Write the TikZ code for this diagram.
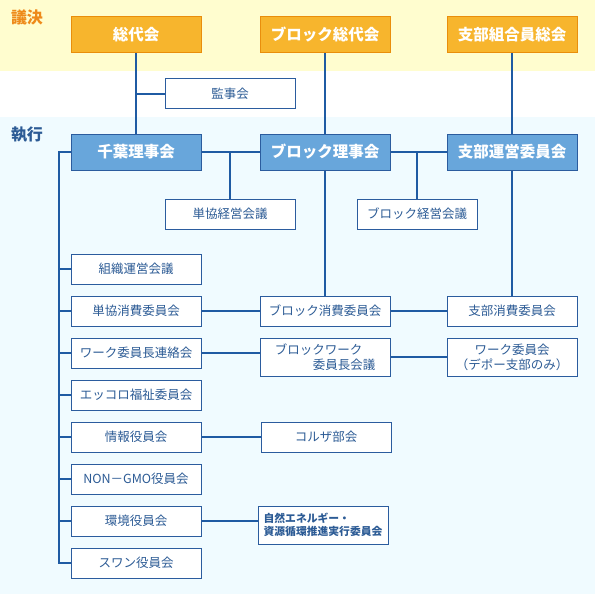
\documentclass[tikz,border=0pt]{standalone}
\usepackage{fontspec}
\setmainfont{Noto Sans CJK JP}
\usepackage{xcolor}
\usetikzlibrary{calc}

\definecolor{bandyellow}{HTML}{FFFDCF}
\definecolor{bandblue}{HTML}{F0FBFF}
\definecolor{orangefill}{HTML}{F7B52D}
\definecolor{orangeline}{HTML}{E98E0C}
\definecolor{bluefill}{HTML}{68A6DB}
\definecolor{blueline}{HTML}{2B5C9E}
\definecolor{linkblue}{HTML}{1F5BA3}
\definecolor{labelorange}{HTML}{EE8A1A}
\definecolor{labelblue}{HTML}{2C5B95}

\tikzset{
  bigbox/.style={minimum width=130, minimum height=36, inner sep=0pt, line width=1pt,
    text=white, font=\fontsize{15.5}{18}\selectfont\bfseries},
  gikai/.style={bigbox, fill=orangefill, draw=orangeline},
  rijikai/.style={bigbox, fill=bluefill, draw=blueline},
  wbox/.style={minimum width=130, minimum height=30, inner sep=0pt, line width=1pt,
    fill=white, draw=blueline, text=labelblue, font=\fontsize{12.5}{15}\selectfont},
  link/.style={linkblue, line width=2pt, line join=miter}
}

\begin{document}
\begin{tikzpicture}[x=1pt, y=-1pt]
  % Background bands
  \useasboundingbox (0,0) rectangle (595,594);
  \fill[bandyellow] (0,0) rectangle (595,71);
  \fill[white] (0,71) rectangle (595,117);
  \fill[bandblue] (0,117) rectangle (595,594);

  % Section labels
  \node[labelorange, font=\fontsize{16}{18}\selectfont\bfseries] (giketsu) at (27,17) {議決};
  \node[labelblue, font=\fontsize{16}{18}\selectfont\bfseries] (shikko) at (27,135) {執行};

  % Top row: decision bodies
  \node[gikai] (sodai) at (136,35) {総代会};
  \node[gikai] (bsodai) at (325,35) {ブロック総代会};
  \node[gikai] (shibusokai) at (512,35) {支部組合員総会};

  \node[wbox] (kanji) at (230,94) {監事会};

  % Executive row
  \node[rijikai] (riji) at (136,152) {千葉理事会};
  \node[rijikai] (briji) at (325,152) {ブロック理事会};
  \node[rijikai] (shibuun) at (512,152) {支部運営委員会};

  \node[wbox] (tankei) at (230,214) {単協経営会議};
  \node[wbox, minimum width=120] (bkei) at (417,214) {ブロック経営会議};

  % Committees on the left
  \node[wbox] (soshiki) at (136,269) {組織運営会議};
  \node[wbox] (tanshohi) at (136,311) {単協消費委員会};
  \node[wbox] (workren) at (136,353) {ワーク委員長連絡会};
  \node[wbox] (ekkoro) at (136,395) {エッコロ福祉委員会};
  \node[wbox] (joho) at (136,437) {情報役員会};
  \node[wbox] (nongmo) at (136,479) {NON－GMO役員会};
  \node[wbox] (kankyo) at (136,521) {環境役員会};
  \node[wbox] (swan) at (136,563) {スワン役員会};

  % Block and branch committees
  \node[wbox] (bshohi) at (325,311) {ブロック消費委員会};
  \node[wbox] (shibushohi) at (512,311) {支部消費委員会};
  \node[wbox, minimum height=38, align=left] (bwork) at (325,357)
    {ブロックワーク\\\hspace*{38pt}委員長会議};
  \node[wbox, minimum height=38, align=center] (work) at (512,357)
    {ワーク委員会\\（デポー支部のみ）};
  \node[wbox] (koruza) at (326,437) {コルザ部会};
  \node[wbox, minimum height=38, align=left, font=\fontsize{10.8}{13.5}\selectfont\bfseries]
    (energy) at (323,525) {自然エネルギー・\\資源循環推進実行委員会};

  % Vertical links from the top row
  \draw[link] (sodai) -- (riji);
  \draw[link] (kanji.west) -| (sodai.south);
  \draw[link] (bsodai) -- (briji);
  \draw[link] (shibusokai) -- (shibuun);

  % Links between the boards
  \draw[link] (riji) -- (briji);
  \draw[link] (briji) -- (shibuun);
  \draw[link] (tankei.north) -- (tankei.north |- riji.east);
  \draw[link] (bkei.north) -- (bkei.north |- briji.east);
  \draw[link] (briji) -- (bshohi);
  \draw[link] (shibuun) -- (shibushohi);

  % Left trunk
  \draw[link] (riji.west) -- ++(-12,0) |- (swan.west);
  \foreach \n in {soshiki,tanshohi,workren,ekkoro,joho,nongmo,kankyo}
    \draw[link] (\n.west) -- ++(-12,0);

  % Horizontal links
  \draw[link] (tanshohi) -- (bshohi);
  \draw[link] (bshohi) -- (shibushohi);
  \draw[link] (workren.east) -- (workren.east -| bwork.west);
  \draw[link] (bwork.east) -- (bwork.east -| work.west);
  \draw[link] (joho) -- (koruza);
  \draw[link] (kankyo.east) -- (kankyo.east -| energy.west);
\end{tikzpicture}
\end{document}
